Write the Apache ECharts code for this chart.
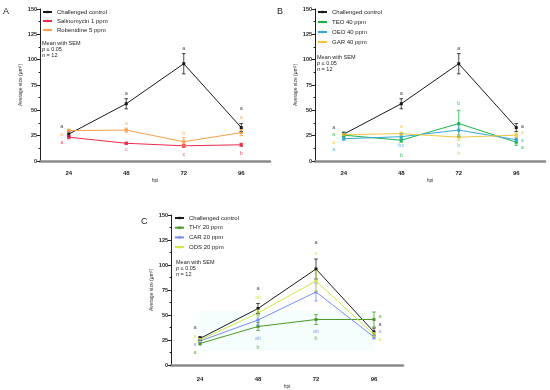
<!DOCTYPE html>
<html><head><meta charset="utf-8">
<script src="https://cdn.jsdelivr.net/npm/echarts@6/dist/echarts.min.js"></script>
<style>html,body{margin:0;padding:0;background:#fff}#c{width:550px;height:390px}</style>
</head><body><div id="c"></div>
<script>
// ---------- data ----------
const hpi = ['24', '48', '72', '96'];
const yMin = 0, yMax = 150, yStep = 25;

const controlMean = [26.5, 56.5, 96, 33];
const controlSem  = [2, 5, 10, 4];

// Panel A
const salMean = [23.5, 17.5, 15, 16];
const salSem  = [1.5, 1, 1.5, 1.5];
const robMean = [30, 30.5, 19, 28];
const robSem  = [1.5, 2, 4, 3];

// Panel B
const teoMean = [25.5, 20.5, 37, 18.5];
const teoSem  = [1.5, 2, 13, 3];
const oeoMean = [22, 24, 30.5, 21];
const oeoSem  = [1.5, 3, 5, 2];
const garMean = [26, 27, 23.5, 25.5];
const garSem  = [1, 1.5, 3, 2];

// Panel C
const thyMean = [21.5, 38.5, 45.5, 45.5];
const thySem  = [1.5, 4, 5, 7.5];
const carMean = [24, 45, 73, 28];
const carSem  = [1.5, 5, 9, 2];
const odsMean = [25, 52, 84, 30.5];
const odsSem  = [1.5, 3, 10, 2];
const shadeC  = [14, 54];

// significance letters (text, value-height)
const letA_control = ['a', 'a', 'a', 'a'];   const letA_controlY = [34.5, 67, 111.5, 52];
const letA_sal     = ['a', 'c', 'c', 'b'];   const letA_salY     = [17.8, 10.9, 6.9, 7.9];
const letA_rob     = ['a', 'a', 'b', 'a'];   const letA_robY     = [26.6, 37.5, 27.6, 43.4];

const letB_control = ['a', 'a', 'a', 'a'];   const letB_controlY = [32.9, 67, 111.5, 34.5];
const letB_teo     = ['a', 'b', 'b', 'a'];   const letB_teoY     = [25.7, 5.9, 56.6, 13.8];
const letB_oeo     = ['a', 'bc', 'b', 'a'];  const letB_oeoY     = [10.9, 15.1, 15.1, 20.7];
const letB_gar     = ['a', 'a', 'b', 'a'];   const letB_garY     = [18.1, 34.5, 7.9, 28];

const letC_control = ['a', 'a', 'a', 'a'];   const letC_controlY = [37.2, 77, 122.4, 40.8];
const letC_thy     = ['a', 'b', 'b', 'a'];   const letC_thyY     = [12.3, 17.3, 26.3, 48.8];
const letC_car     = ['a', 'ab', 'ab', 'a']; const letC_carY     = [20.6, 26.3, 33.2, 33.2];
const letC_ods     = ['a', 'ab', 'a', 'a'];  const letC_odsY     = [28.9, 68, 111.9, 25.6];

// ---------- styles ----------
const FONT = 'Liberation Sans';
const colControl = '#1a1a1a';
const colSal = '#ee2a4a', colRob = '#f5a04a';
const colTeo = '#1fb34a', colOeo = '#33a9dc', colGar = '#f4c63f';
const colThy = '#4c9a2a', colCar = '#7a8ef0', colOds = '#d4e645';

const grids = [
  {left: 40, top: 9, width: 230, height: 152},
  {left: 315, top: 9, width: 230, height: 152},
  {left: 171, top: 215, width: 232, height: 151}
];
const xOffsets = [4, 4, 6];
const letterDx = [[-7, 0, 0, 0], [-10, 0, 0, 6], [-5, 0, 0, 6]];

const chart = echarts.init(document.getElementById('c'), null, {renderer: 'canvas'});

const xAxes = grids.map((g, i) => ({
  type: 'category', gridIndex: i, data: hpi, boundaryGap: true, offset: xOffsets[i],
  axisLine: {lineStyle: {color: '#8a8a8a', width: 2.5}},
  axisTick: {alignWithLabel: true, length: 2, lineStyle: {color: '#666'}},
  axisLabel: {fontSize: 6, fontWeight: 'bold', color: '#222', margin: 5, fontFamily: FONT},
  name: 'hpi', nameLocation: 'middle', nameGap: 13,
  nameTextStyle: {fontSize: 5, color: '#333', fontFamily: FONT}
}));
const yAxes = grids.map((g, i) => ({
  type: 'value', gridIndex: i, min: yMin, max: yMax, interval: yStep,
  axisLine: {show: true, lineStyle: {color: '#222', width: 1}},
  axisTick: {show: true, length: 3, lineStyle: {color: '#222'}},
  minorTick: {show: true, splitNumber: 2, length: 1.5, lineStyle: {color: '#222'}},
  splitLine: {show: false},
  axisLabel: {fontSize: 5.5, fontWeight: 'bold', color: '#222', margin: 3, fontFamily: FONT},
  name: 'Average size (μm²)', nameLocation: 'middle', nameGap: 17,
  nameTextStyle: {fontSize: 5, color: '#333', fontFamily: FONT}
}));

const series = [];
function addGroup(gi, name, mean, sem, color, extra) {
  const s = {
    type: 'line', name: name, xAxisIndex: gi, yAxisIndex: gi, data: mean,
    symbol: 'rect', symbolSize: 3, color: color,
    lineStyle: {width: 1, color: color}, itemStyle: {color: color}, z: 3
  };
  if (extra) Object.assign(s, extra);
  series.push(s);
  series.push({
    type: 'custom', name: name + ' SEM', xAxisIndex: gi, yAxisIndex: gi,
    data: mean.map((m, i) => [i, m - sem[i], m + sem[i]]),
    encode: {x: 0, y: [1, 2]}, z: 4, silent: true,
    renderItem: function (params, api) {
      const x = api.value(0);
      const top = api.coord([x, api.value(2)]);
      const bot = api.coord([x, api.value(1)]);
      const w = 1.8;
      const st = {stroke: color, lineWidth: 0.8};
      return {type: 'group', children: [
        {type: 'line', shape: {x1: top[0], y1: top[1], x2: bot[0], y2: bot[1]}, style: st},
        {type: 'line', shape: {x1: top[0] - w, y1: top[1], x2: top[0] + w, y2: top[1]}, style: st},
        {type: 'line', shape: {x1: bot[0] - w, y1: bot[1], x2: bot[0] + w, y2: bot[1]}, style: st}
      ]};
    }
  });
}
function addLetters(gi, groups) {
  const data = [];
  groups.forEach(g => {
    g.letters.forEach((t, i) => {
      data.push({
        value: [i, g.ys[i]],
        label: {show: true, formatter: t, color: g.color, offset: [letterDx[gi][i], 0]}
      });
    });
  });
  series.push({
    type: 'scatter', name: 'letters' + gi, xAxisIndex: gi, yAxisIndex: gi,
    symbolSize: 0, silent: true, z: 5, data: data,
    label: {show: true, position: 'inside', fontSize: 5.5, fontFamily: FONT}
  });
}

// Panel A
addGroup(0, 'Challenged control', controlMean, controlSem, colControl);
addGroup(0, 'Salinomycin 1 ppm', salMean, salSem, colSal);
addGroup(0, 'Robenidine 5 ppm', robMean, robSem, colRob);
addLetters(0, [
  {letters: letA_control, ys: letA_controlY, color: colControl},
  {letters: letA_sal, ys: letA_salY, color: colSal},
  {letters: letA_rob, ys: letA_robY, color: colRob}
]);
// Panel B
addGroup(1, 'Challenged control', controlMean, controlSem, colControl);
addGroup(1, 'TEO 40 ppm', teoMean, teoSem, colTeo);
addGroup(1, 'OEO 40 ppm', oeoMean, oeoSem, colOeo);
addGroup(1, 'GAR 40 ppm', garMean, garSem, colGar);
addLetters(1, [
  {letters: letB_control, ys: letB_controlY, color: colControl},
  {letters: letB_teo, ys: letB_teoY, color: colTeo},
  {letters: letB_oeo, ys: letB_oeoY, color: colOeo},
  {letters: letB_gar, ys: letB_garY, color: colGar}
]);
// Panel C
addGroup(2, 'Challenged control', controlMean, controlSem, colControl);
addGroup(2, 'THY 20 ppm', thyMean, thySem, colThy, {
  markArea: {silent: true, itemStyle: {color: 'rgba(200,240,240,0.16)'},
    data: [[{xAxis: hpi[0], yAxis: shadeC[0]}, {xAxis: hpi[3], yAxis: shadeC[1]}]]}
});
addGroup(2, 'CAR 20 ppm', carMean, carSem, colCar);
addGroup(2, 'ODS 20 ppm', odsMean, odsSem, colOds);
addLetters(2, [
  {letters: letC_control, ys: letC_controlY, color: colControl},
  {letters: letC_thy, ys: letC_thyY, color: colThy},
  {letters: letC_car, ys: letC_carY, color: colCar},
  {letters: letC_ods, ys: letC_odsY, color: colOds}
]);

const legendBase = {
  orient: 'vertical', itemWidth: 9, itemHeight: 3, itemGap: 3,
  textStyle: {fontSize: 6, color: '#222', fontFamily: FONT}, selectedMode: false,
  padding: 0
};
const legends = [
  Object.assign({}, legendBase, {left: 42, top: 9, data: ['Challenged control', 'Salinomycin 1 ppm', 'Robenidine 5 ppm']}),
  Object.assign({}, legendBase, {left: 317, top: 9, itemGap: 4, data: ['Challenged control', 'TEO 40 ppm', 'OEO 40 ppm', 'GAR 40 ppm']}),
  Object.assign({}, legendBase, {left: 174, top: 215, itemGap: 3.7, data: ['Challenged control', 'THY 20 ppm', 'CAR 20 ppm', 'ODS 20 ppm']})
];

function statText(x, y) {
  return {
    type: 'text', left: x, top: y, silent: true,
    style: {
      text: 'Mean with SEM\n{i|p} ≤ 0.05\n{i|n} = 12',
      font: '5.5px ' + FONT, fill: '#222', lineHeight: 6,
      rich: {i: {fontStyle: 'italic', fontSize: 5.5, fontFamily: FONT, fill: '#222'}}
    }
  };
}
function panelLetter(t, x, y) {
  return {type: 'text', left: x, top: y, silent: true,
    style: {text: t, font: '9px ' + FONT, fill: '#222'}};
}

chart.setOption({
  animation: false,
  backgroundColor: '#ffffff',
  grid: grids,
  xAxis: xAxes,
  yAxis: yAxes,
  legend: legends,
  series: series,
  graphic: [
    panelLetter('A', 3, 7), panelLetter('B', 277, 7), panelLetter('C', 141, 217),
    statText(42, 40), statText(317, 54), statText(176, 259)
  ]
});
</script></body></html>
